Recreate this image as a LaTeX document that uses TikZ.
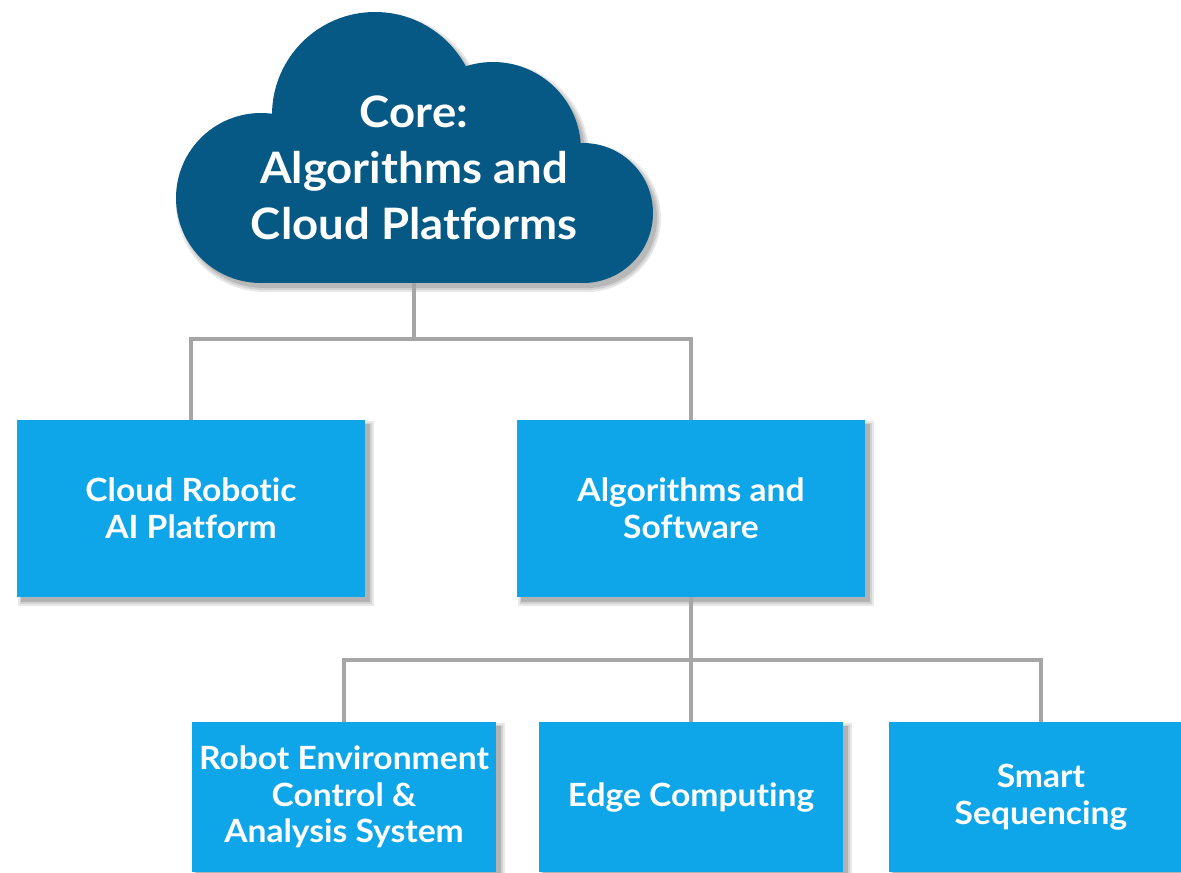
\documentclass[tikz,border=0pt]{standalone}
\usepackage{fontspec}
\setmainfont{Lato}[Ligatures=NoCommon,FakeStretch=1.05]
\usetikzlibrary{calc,backgrounds}
\definecolor{cloudblue}{HTML}{075985}
\definecolor{boxblue}{HTML}{0EA5E9}
\definecolor{conngray}{HTML}{A6A6A6}
\newcommand{\cloudshape}[3]{%
  \begin{scope}[shift={(#1,#2)}]
    \fill (261,198) circle[radius={85+#3}];
    \fill (375,115) circle[radius={103+#3}];
    \fill (493,150) circle[radius={88+#3}];
    \fill (583,213) circle[radius={70+#3}];
    \fill ({261-#3},150) rectangle ({583+#3},{283+#3});
    \fill (300,115) rectangle (540,283);
  \end{scope}}
\newcommand{\boxshadow}[1]{%
  \fill[black!9]  ($(#1.north west)+(1,1)$) rectangle ($(#1.south east)+(9,9)$);
  \fill[black!18] ($(#1.north west)+(3,3)$) rectangle ($(#1.south east)+(7,7)$);
  \fill[black!30] ($(#1.north west)+(4,4)$) rectangle ($(#1.south east)+(5,5)$);}
\begin{document}
\begin{tikzpicture}[x=0.75pt,y=-0.75pt,
  conn/.style={draw=conngray,line width=3pt},
  topbox/.style={rectangle,fill=boxblue,text=white,align=center,
    minimum width=261pt,minimum height=132.75pt,inner sep=0pt,
    font=\bfseries\fontsize{24}{27.5}\selectfont},
  lowbox/.style={topbox,minimum width=228pt,minimum height=112.5pt},
  coretext/.style={text=white,align=center,inner sep=0pt,
    font=\bfseries\fontsize{32.5}{42}\selectfont}]
\useasboundingbox (0,0) rectangle (1181,872);
\clip (0,0) rectangle (1181,872);
% coordinates
\coordinate (cloudbot) at (414,280);
\coordinate (j1) at (414,339);
\coordinate (j2) at (691,660);
% boxes
\node[topbox] (crp) at (191,508.5) {Cloud Robotic\\AI Platform};
\node[topbox] (alg) at (691,508.5) {Algorithms and\\Software};
\node[lowbox] (robot) at (344,797) {Robot Environment\\Control \&\\Analysis System};
\node[lowbox] (edge) at (691,797) {Edge Computing};
\node[lowbox] (smart) at (1041,797) {Smart\\Sequencing};
\begin{scope}[on background layer]
  \boxshadow{crp}\boxshadow{alg}\boxshadow{robot}\boxshadow{edge}\boxshadow{smart}
  % cloud shadow
  \begin{scope}[black!9]\cloudshape{4}{5}{4}\end{scope}
  \begin{scope}[black!18]\cloudshape{4}{5}{2}\end{scope}
  \begin{scope}[black!28]\cloudshape{4}{5}{0}\end{scope}
  \draw[conn] (cloudbot) -- (j1);
  \draw[conn] (j1) -| (crp.north);
  \draw[conn] (j1) -| (alg.north);
  \draw[conn] (alg.south) -- (j2);
  \draw[conn] (j2) -| (robot.north);
  \draw[conn] (j2) -- (edge.north);
  \draw[conn] (j2) -| (smart.north);
\end{scope}
% cloud
\begin{scope}[cloudblue]\cloudshape{0}{0}{0}\end{scope}
\node[coretext] (core) at (414,168) {Core:\\Algorithms and\\Cloud Platforms};
\end{tikzpicture}
\end{document}
